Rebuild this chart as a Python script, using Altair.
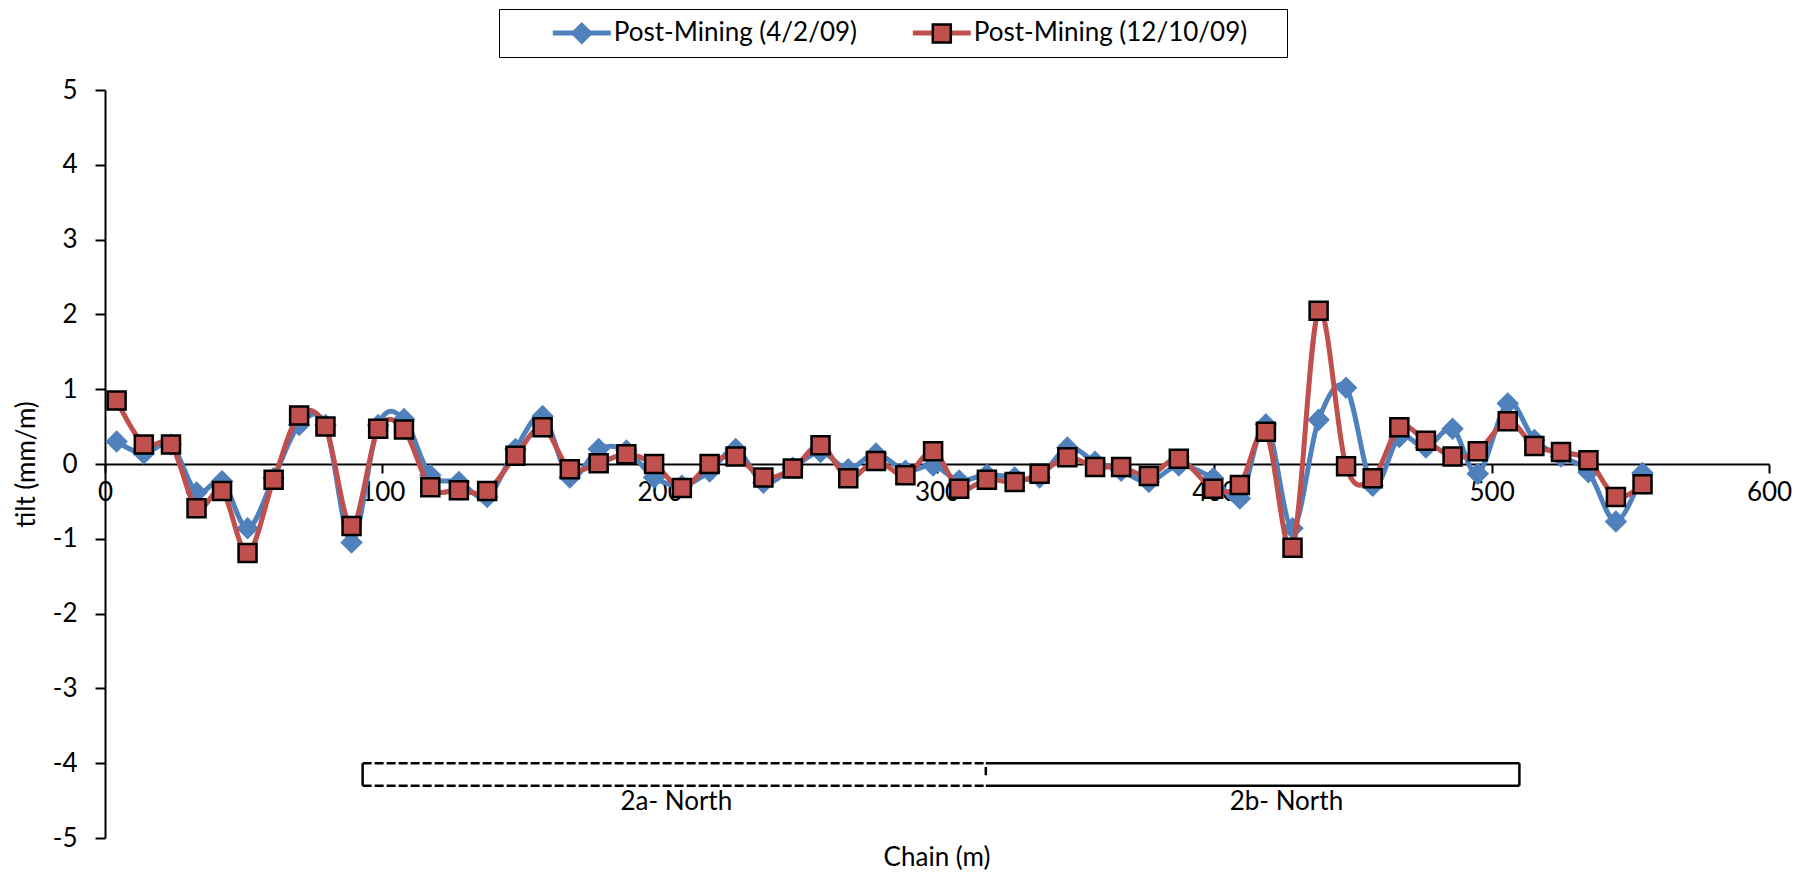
import altair as alt
import pandas as pd

# ---------------- data ----------------
chain = [4.2, 14.0, 23.8, 33.0, 42.2, 51.4, 60.8, 70.0, 79.5, 88.9,
         98.5, 107.8, 117.3, 127.6, 137.8, 148.0, 157.8, 167.6, 178.0, 188.0,
         198.0, 208.0, 218.0, 227.4, 237.4, 248.0, 258.0, 268.0, 278.0, 288.6,
         298.6, 308.0, 318.0, 328.0, 337.0, 347.0, 357.0, 366.4, 376.4, 387.2,
         399.6, 409.2, 418.6, 428.2, 437.6, 447.5, 457.1, 466.7, 476.3, 485.9,
         495.0, 505.8, 515.4, 525.0, 534.9, 544.8, 554.4]

tilt_apr09 = [0.30, 0.14, 0.26, -0.38, -0.23, -0.86, -0.19, 0.52, 0.52, -1.05,
              0.52, 0.60, -0.15, -0.24, -0.44, 0.20, 0.64, -0.18, 0.20, 0.18,
              -0.18, -0.29, -0.10, 0.20, -0.25, -0.05, 0.16, -0.07, 0.14, -0.09,
              -0.02, -0.22, -0.14, -0.18, -0.18, 0.22, 0.03, -0.09, -0.24, -0.02,
              -0.19, -0.46, 0.53, -0.86, 0.59, 1.02, -0.29, 0.36, 0.22, 0.47,
              -0.13, 0.81, 0.32, 0.10, -0.11, -0.77, -0.12]

tilt_dec09 = [0.85, 0.26, 0.26, -0.59, -0.36, -1.19, -0.21, 0.65, 0.50, -0.83,
              0.47, 0.46, -0.31, -0.35, -0.36, 0.11, 0.49, -0.07, 0.01, 0.13,
              0.00, -0.32, 0.00, 0.10, -0.18, -0.06, 0.25, -0.19, 0.04, -0.15,
              0.17, -0.33, -0.21, -0.24, -0.13, 0.09, -0.04, -0.04, -0.16, 0.07,
              -0.33, -0.28, 0.43, -1.12, 2.05, -0.03, -0.19, 0.49, 0.31, 0.10,
              0.17, 0.57, 0.24, 0.16, 0.05, -0.44, -0.27]

series_names = ["Post-Mining (4/2/09)", "Post-Mining (12/10/09)"]
x_ticks = [0, 100, 200, 300, 400, 500, 600]
y_ticks = [-5, -4, -3, -2, -1, 0, 1, 2, 3, 4, 5]

panel_names = ["2a- North", "2b- North"]
panel_name_chain = [206, 426]
panel_name_tilt = -4.52
panel_start, panel_split, panel_end = 92.9, 317.6, 510.0
panel_top, panel_bottom = -4.0, -4.3
split_tick_top, split_tick_bottom = -4.05, -4.16

# ---------------- style ----------------
BLUE = "#4F81BD"
RED = "#C0504D"
FONT = "Lato"
FS = 26
W, H = 1664, 748
MARK_PREFIX = "m|"   # marker-legend keys differ from line-legend keys so the two legends stay apart

marker_names = [MARK_PREFIX + s for s in series_names]

rows = []
for name, mname, vals in zip(series_names, marker_names, [tilt_apr09, tilt_dec09]):
    for i, (c, v) in enumerate(zip(chain, vals)):
        rows.append({"chain": c, "tilt": v, "series": name, "series_m": mname, "idx": i})
df = pd.DataFrame(rows)

seg_rows = [
    {"chain": panel_start, "chain2": panel_split, "tilt": panel_top, "tilt2": panel_top, "style": "dashed"},
    {"chain": panel_start, "chain2": panel_split, "tilt": panel_bottom, "tilt2": panel_bottom, "style": "dashed"},
    {"chain": panel_split, "chain2": panel_end, "tilt": panel_top, "tilt2": panel_top, "style": "solid"},
    {"chain": panel_split, "chain2": panel_end, "tilt": panel_bottom, "tilt2": panel_bottom, "style": "solid"},
    {"chain": panel_start, "chain2": panel_start, "tilt": panel_top, "tilt2": panel_bottom, "style": "solid"},
    {"chain": panel_end, "chain2": panel_end, "tilt": panel_top, "tilt2": panel_bottom, "style": "solid"},
    {"chain": panel_split, "chain2": panel_split, "tilt": split_tick_top, "tilt2": split_tick_bottom, "style": "solid"},
]
seg_df = pd.DataFrame(seg_rows)
rect_df = pd.DataFrame([{"chain": panel_start, "chain2": panel_end, "tilt": panel_top, "tilt2": panel_bottom}])
text_df = pd.DataFrame({"chain": panel_name_chain, "tilt": [panel_name_tilt] * 2, "label": panel_names})

x_scale = alt.Scale(domain=[0, 600], nice=False, zero=False)
y_scale = alt.Scale(domain=[-5, 5], nice=False)

x_axis = alt.Axis(values=x_ticks, offset=-H / 2, labelFlush=False, grid=False, title=None,
                  domainColor="black", domainWidth=2, tickColor="black", tickWidth=2, tickSize=9,
                  labelFont=FONT, labelFontSize=FS, labelColor="black", labelPadding=6,
                  labelExpr="'' + datum.value")
y_axis = alt.Axis(values=y_ticks, grid=False, title="tilt (mm/m)", domainColor="black", domainWidth=2,
                  tickColor="black", tickWidth=2, tickSize=10, labelFont=FONT, labelFontSize=FS,
                  labelColor="black", labelPadding=18, labelExpr="'' + datum.value",
                  titleFont=FONT, titleFontSize=FS,
                  titleFontWeight="normal", titleColor="black", titlePadding=13)


def X(field="chain:Q"):
    return alt.X(field, scale=x_scale, axis=x_axis)


def Y(field="tilt:Q"):
    return alt.Y(field, scale=y_scale, axis=y_axis)


label_expr = "replace(datum.label, '" + MARK_PREFIX + "', '')"
legend_common = dict(orient="none", legendX=394, legendY=-81, direction="horizontal", columns=2,
                     title="\u00a0", titleOrient="right", titlePadding=29, titleFont=FONT,
                     titleFontSize=FS, titleColor="black",
                     labelFont=FONT, labelFontSize=FS, labelColor="black", padding=11,
                     symbolSize=400, symbolOffset=58.8, labelOffset=19, columnPadding=12,
                     labelExpr=label_expr, labelLimit=600)

legend_line = alt.Legend(symbolType="M-2.9,0L2.9,0", symbolStrokeWidth=5, symbolFillColor="transparent",
                         strokeColor="black", **legend_common)
legend_mark = alt.Legend(symbolStrokeWidth=2.5, labelOpacity=0, **legend_common)

DIAMOND = "M-0.95,0L0,-0.95L0.95,0L0,0.95Z"
SQUARE = "M-0.9,-0.9L0.9,-0.9L0.9,0.9L-0.9,0.9Z"

color_scale = alt.Scale(domain=series_names, range=[BLUE, RED])
shape_scale = alt.Scale(domain=marker_names, range=[DIAMOND, SQUARE])
fill_scale = alt.Scale(domain=marker_names, range=[BLUE, RED])
stroke_scale = alt.Scale(domain=marker_names, range=[BLUE, "black"])

base = alt.Chart(df)

layers = []
for name in series_names:
    sel = base.transform_filter(alt.datum.series == name)
    layers.append(
        sel.mark_line(interpolate="cardinal", strokeWidth=5).encode(
            x=X(), y=Y(),
            color=alt.Color("series:N", scale=color_scale, legend=legend_line),
            order="idx:Q",
        )
    )
    layers.append(
        sel.mark_point(filled=True, size=400, strokeWidth=2.5, opacity=1).encode(
            x=X(), y=Y(),
            shape=alt.Shape("series_m:N", scale=shape_scale, legend=legend_mark),
            fill=alt.Fill("series_m:N", scale=fill_scale, legend=legend_mark),
            stroke=alt.Stroke("series_m:N", scale=stroke_scale, legend=legend_mark),
        )
    )

rect = alt.Chart(rect_df).mark_rect(fill="white", strokeWidth=0).encode(
    x=X(), x2="chain2", y=Y(), y2="tilt2")
segs = alt.Chart(seg_df).mark_rule(strokeWidth=2.5, color="black").encode(
    x=X(), x2="chain2", y=Y(), y2="tilt2",
    strokeDash=alt.StrokeDash("style:N", scale=alt.Scale(domain=["solid", "dashed"], range=[[1, 0], [9, 3]]),
                              legend=None))
texts = alt.Chart(text_df).mark_text(font=FONT, fontSize=FS, color="black", baseline="middle").encode(
    x=X(), y=Y(), text="label:N")

chart = alt.layer(rect, segs, texts, *layers).properties(
    width=W, height=H,
    title=alt.TitleParams("Chain (m)", orient="bottom", anchor="middle", frame="group", font=FONT,
                          fontSize=FS, fontWeight="normal", color="black", offset=-6),
    padding={"left": 5, "top": 0, "right": 5, "bottom": 0},
    background="white",
).configure_view(stroke=None)

chart.save("out.html", embed_options={"renderer": "svg", "actions": False})
